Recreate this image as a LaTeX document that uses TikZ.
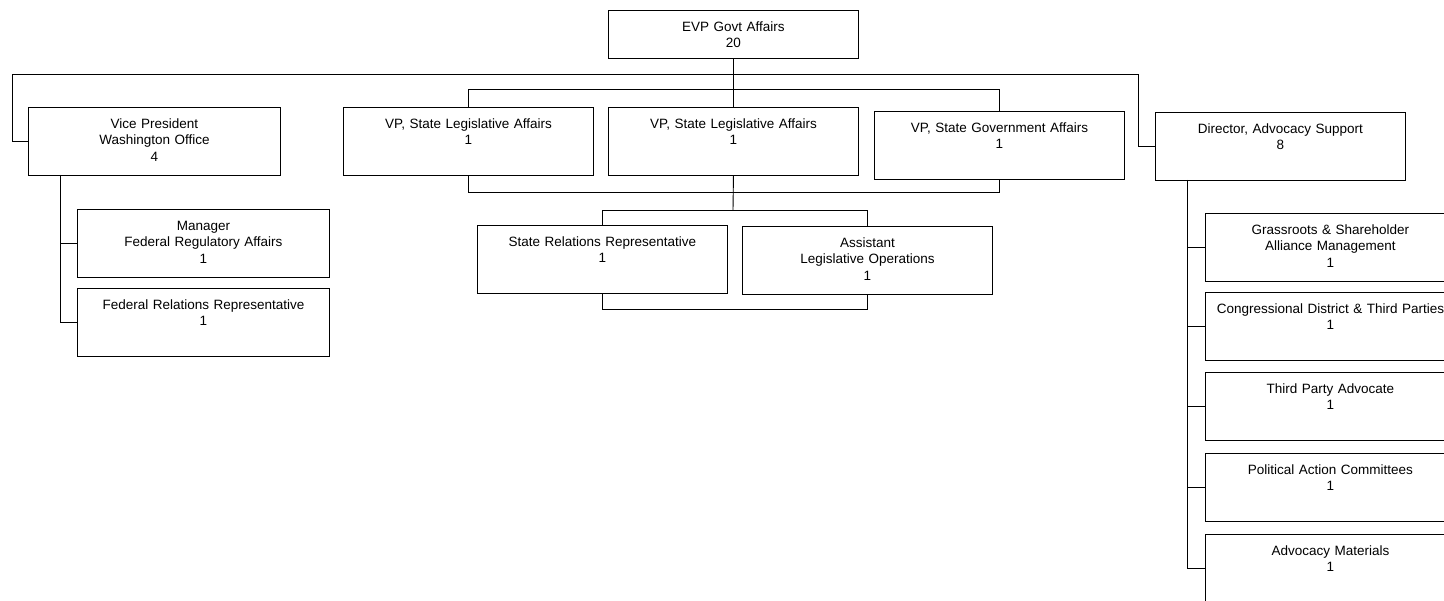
\documentclass[tikz,border=0pt]{standalone}
\usepackage{fontspec}
\setmainfont{Liberation Sans}
\usepackage{tikz}
\newcommand{\orgfont}{\fontsize{13.5}{16.5}\selectfont}

\begin{document}
\begin{tikzpicture}[x=1pt,y=-1pt,
    post/.style={draw,line width=.9pt,anchor=north west,text width=238pt,
                 inner xsep=6pt,inner ysep=6pt,align=center,
                 text height=15pt,text depth=41pt,font=\orgfont},
    link/.style={line width=.9pt}]
    \useasboundingbox (0,0) rectangle (1444,601);
    \clip (0,0) rectangle (1444,601);
    % top
    \node[post,text depth=21pt] (evp) at (608,10) {EVP Govt Affairs\\20};
    % second row
    \node[post,text width=240pt] (vpwash) at (28,107) {Vice President\\Washington Office\\4};
    \node[post] (vpleg1) at (343,107) {VP, State Legislative Affairs\\1};
    \node[post] (vpleg2) at (608,107) {VP, State Legislative Affairs\\1};
    \node[post] (vpgov) at (874,111) {VP, State Government Affairs\\1};
    \node[post] (dir) at (1155,112) {Director, Advocacy Support\\8};
    % under the washington office
    \node[post,text width=240pt] (mgr) at (77,209) {Manager\\Federal Regulatory Affairs\\1};
    \node[post,text width=240pt] (fedrel) at (77,288) {Federal Relations Representative\\1};
    % under state legislative affairs
    \node[post] (staterel) at (477,225) {State Relations Representative\\1};
    \node[post] (asst) at (742,226) {Assistant\\Legislative Operations\\1};
    % under advocacy support
    \node[post] (grass) at (1205,213) {Grassroots \& Shareholder\\Alliance Management\\1};
    \node[post] (cong) at (1205,292) {Congressional District \& Third Parties\\1};
    \node[post] (third) at (1205,372) {Third Party Advocate\\1};
    \node[post] (pac) at (1205,453) {Political Action Committees\\1};
    \node[post] (mat) at (1205,534) {Advocacy Materials\\1};

    \coordinate (busL) at (12,74);
    \coordinate (busR) at (1138,74);
    \coordinate (vptop) at (733,89);
    \coordinate (vpbot) at (733,192);
    \coordinate (sttop) at (733,210);
    \coordinate (stbot) at (733,309);
    \coordinate (wtrunk) at (60,175);
    \coordinate (dtrunk) at (1187,180);

    \draw[link] (vpwash.west) -| (busL) -- (busR) |- (dir.west);
    \draw[link] (evp.south) -- (vpleg2.north);
    \draw[link] (vpleg1.north) |- (vpgov.north |- vptop) -- (vpgov.north);
    \draw[link] (vpleg1.south) |- (vpgov.south |- vpbot) -- (vpgov.south);
    \draw[link] (vpleg2.south) -- (sttop);
    \draw[link] (staterel.north) |- (asst.north |- sttop) -- (asst.north);
    \draw[link] (staterel.south) |- (asst.south |- stbot) -- (asst.south);
    \draw[link] (wtrunk) |- (fedrel.west);
    \draw[link] (wtrunk |- mgr.west) -- (mgr.west);
    \draw[link] (dtrunk) |- (mat.west);
    \foreach \n in {grass,cong,third,pac}{\draw[link] (dtrunk |- \n.west) -- (\n.west);}
\end{tikzpicture}
\end{document}
